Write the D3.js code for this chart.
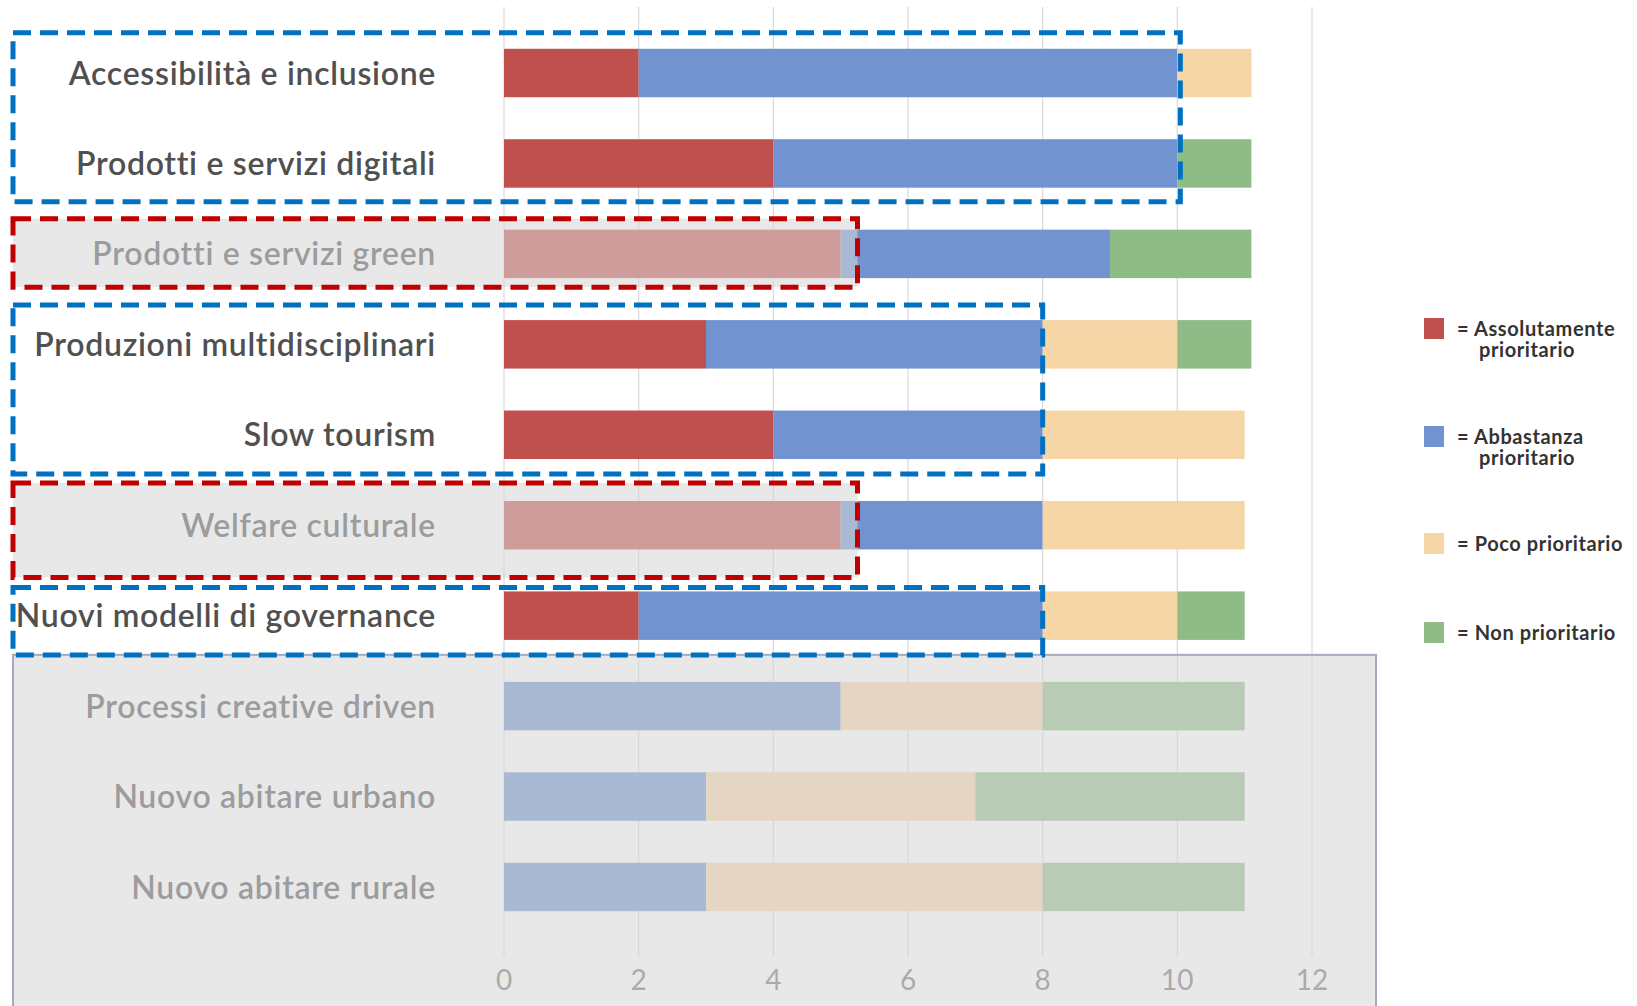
<!DOCTYPE html>
<html>
<head>
<meta charset="utf-8">
<script src="https://cdn.jsdelivr.net/npm/d3@7"></script>
<style>
  body { margin: 0; background: #fff; }
  svg { display: block; font-family: Lato, 'Open Sans', sans-serif; }
</style>
</head>
<body>
<svg id="chart" width="1637" height="1006"></svg>
<script>
var categories = [
  'Accessibilità e inclusione',
  'Prodotti e servizi digitali',
  'Prodotti e servizi green',
  'Produzioni multidisciplinari',
  'Slow tourism',
  'Welfare culturale',
  'Nuovi modelli di governance',
  'Processi creative driven',
  'Nuovo abitare urbano',
  'Nuovo abitare rurale'
]
var assolutamente = [2, 4, 5, 3, 4, 5, 2, 0, 0, 0]
var abbastanza = [8, 6, 4, 5, 4, 3, 6, 5, 3, 3]
var poco = [1.1, 0, 0, 2, 3, 3, 2, 3, 4, 5]
var nonPrioritario = [0, 1.1, 2.1, 1.1, 0, 0, 1, 3, 4, 3]
var xTicks = [0, 2, 4, 6, 8, 10, 12]

var seriesNames = ['= Assolutamente|prioritario', '= Abbastanza|prioritario', '= Poco prioritario', '= Non prioritario']
var colors = ['#c0504d', '#7193cf', '#f6d6a7', '#8fbb86']

var svg = d3.select('#chart')

var x = d3.scaleLinear().domain([0, 12]).range([504, 1312])
var y = d3.scaleBand()
  .domain(categories)
  .range([27.8, 932.2])
  .paddingInner(0.464)
  .paddingOuter(0.232)

// gridlines
svg.append('g')
  .selectAll('line')
  .data(xTicks)
  .enter()
  .append('line')
  .attr('x1', function(d) { return x(d) })
  .attr('x2', function(d) { return x(d) })
  .attr('y1', 7)
  .attr('y2', 957)
  .attr('stroke', '#d9d9d9')
  .attr('stroke-width', 1.2)

// stacked bars
var table = categories.map(function(c, i) {
  return { cat: c, a: assolutamente[i], b: abbastanza[i], c: poco[i], d: nonPrioritario[i] }
})
var stack = d3.stack().keys(['a', 'b', 'c', 'd'])(table)

svg.append('g')
  .selectAll('g')
  .data(stack)
  .enter()
  .append('g')
  .attr('fill', function(d, i) { return colors[i] })
  .selectAll('rect')
  .data(function(d) { return d })
  .enter()
  .append('rect')
  .attr('x', function(d) { return x(d[0]) })
  .attr('width', function(d) { return x(d[1]) - x(d[0]) })
  .attr('y', function(d) { return y(d.data.cat) })
  .attr('height', y.bandwidth())

// category labels
svg.append('g')
  .selectAll('text')
  .data(categories)
  .enter()
  .append('text')
  .attr('x', 436)
  .attr('y', function(d) { return y(d) + y.bandwidth() / 2 })
  .attr('dy', '0.36em')
  .attr('text-anchor', 'end')
  .attr('font-size', 32)
  .attr('letter-spacing', 0.7)
  .attr('font-weight', 600)
  .attr('fill', '#505050')
  .text(function(d) { return d })

// x axis tick labels
svg.append('g')
  .selectAll('text')
  .data(xTicks)
  .enter()
  .append('text')
  .attr('x', function(d) { return x(d) })
  .attr('y', 980)
  .attr('dy', '0.36em')
  .attr('text-anchor', 'middle')
  .attr('font-size', 28)
  .attr('fill', '#707070')
  .text(function(d) { return d })

// grey "shaded" overlays
var overlay = 'rgba(214,214,214,0.57)'
function rowTop(i) { return y(categories[i]) }
function rowBottom(i) { return y(categories[i]) + y.bandwidth() }

var shaded = [
  { row: 2, xEnd: 5.25, top: 11, bottom: 9 },
  { row: 5, xEnd: 5.25, top: 18, bottom: 28 }
]
svg.append('g')
  .selectAll('rect')
  .data(shaded)
  .enter()
  .append('rect')
  .attr('x', 13)
  .attr('y', function(d) { return rowTop(d.row) - d.top })
  .attr('width', function(d) { return x(d.xEnd) - 13 })
  .attr('height', function(d) { return rowBottom(d.row) + d.bottom - rowTop(d.row) + d.top })
  .attr('fill', overlay)

// big bottom block
var bottomTop = rowTop(7) - 27
svg.append('rect')
  .attr('x', 13)
  .attr('y', bottomTop)
  .attr('width', 1376 - 13)
  .attr('height', 1010 - bottomTop)
  .attr('fill', overlay)
  .attr('stroke', '#a4acbc')
  .attr('stroke-width', 2)

// dashed highlight boxes
var boxes = [
  { from: 0, to: 1, xEnd: 10, xPad: 3, top: 16, bottom: 14, color: '#0070c0' },
  { from: 2, to: 2, xEnd: 5.25, xPad: 0, top: 11, bottom: 9, color: '#c00000' },
  { from: 3, to: 4, xEnd: 8, xPad: 0, top: 15, bottom: 15, color: '#0070c0' },
  { from: 5, to: 5, xEnd: 5.25, xPad: 0, top: 18, bottom: 28, color: '#c00000' },
  { from: 6, to: 6, xEnd: 8, xPad: 0, top: 4, bottom: 15, color: '#0070c0' }
]
svg.append('g')
  .selectAll('rect')
  .data(boxes)
  .enter()
  .append('rect')
  .attr('x', 13)
  .attr('y', function(d) { return rowTop(d.from) - d.top })
  .attr('width', function(d) { return x(d.xEnd) + d.xPad - 13 })
  .attr('height', function(d) { return rowBottom(d.to) + d.bottom - rowTop(d.from) + d.top })
  .attr('fill', 'none')
  .attr('stroke', function(d) { return d.color })
  .attr('stroke-width', 5)
  .attr('stroke-dasharray', '18,9')

// legend
var legendY = [329, 437, 544, 633]
var legend = svg.append('g')
  .selectAll('g')
  .data(seriesNames)
  .enter()
  .append('g')
  .attr('transform', function(d, i) { return 'translate(1424,' + legendY[i] + ')' })

legend.append('rect')
  .attr('x', 0)
  .attr('y', -11)
  .attr('width', 20)
  .attr('height', 21)
  .attr('fill', function(d, i) { return colors[i] })

legend.append('text')
  .attr('y', 0)
  .attr('font-size', 20)
  .attr('letter-spacing', 0.6)
  .attr('font-weight', 700)
  .attr('fill', '#333')
  .each(function(d) {
    var t = d3.select(this)
    d.split('|').forEach(function(p, j) {
      t.append('tspan')
        .attr('x', j === 0 ? 33 : 55)
        .attr('dy', j === 0 ? '0.36em' : 21)
        .text(p)
    })
  })
</script>
</body>
</html>
